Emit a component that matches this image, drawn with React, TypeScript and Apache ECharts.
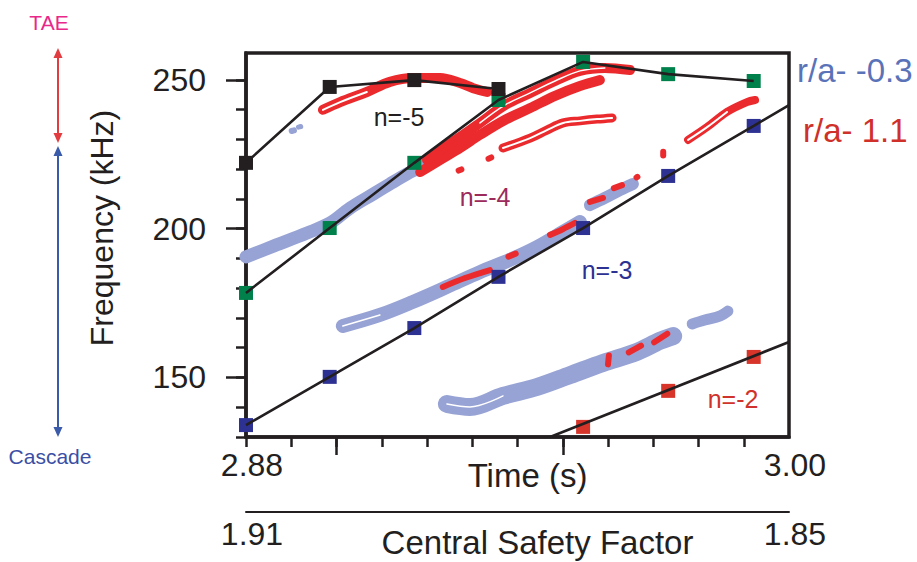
import React, { useEffect, useRef } from "react";
import * as echarts from "echarts";

// ---------- data ----------
const TIMES = [2.88, 2.8985, 2.9172, 2.9358, 2.9545, 2.9733, 2.9922];
const N5_FREQ = [222.1, 247.6, 249.9, 246.9]; // first four times
const N4_FREQ = [178.4, 200.2, 222.1, 243.2, 256.0, 251.9, 249.6];
const N3_FREQ = [134.0, 150.2, 166.6, 183.8, 200.2, 217.7, 234.5];
const N3_LINE_END = [3.0, 241.5];
const N2_TIMES = [2.9545, 2.9733, 2.9922];
const N2_FREQ = [133.4, 145.5, 156.9];
const N2_LINE = [[2.9472, 130.0], [3.0, 161.9]];

const X_TICKS = [2.88, 2.89, 2.9, 2.91, 2.92, 2.93, 2.94, 2.95, 2.96, 2.97, 2.98, 2.99];
const X_LONG_TICKS = [2.9, 2.95];
const X_LABELS = [2.88, 3.0];
const Q_LABELS = [1.91, 1.85];
const Y_TICKS = [130, 140, 150, 160, 170, 180, 190, 200, 210, 220, 230, 240, 250];
const Y_LABELS = [150, 200, 250];

// cascade (r/a = -0.3) contour bands
const BLUE_A = [[2.88, 190.5], [2.8862, 194.2], [2.8935, 198.5], [2.8986, 201.9], [2.903, 206.9], [2.9081, 211.6], [2.9118, 215.0], [2.9156, 218.4], [2.9185, 220.7], [2.9218, 223.7]];
const BLUE_DOT1 = [[2.8901, 232.8], [2.8906, 233.0]];
const BLUE_DOT2 = [[2.8916, 234.1], [2.8921, 234.3]];
const BLUE_B1 = [[2.9014, 167.3], [2.9096, 171.0], [2.9169, 175.4], [2.9244, 180.4], [2.9317, 185.4], [2.9383, 189.5], [2.9443, 193.8], [2.9501, 198.9], [2.9538, 202.2]];
const BLUE_B2 = [[2.956, 207.9], [2.9593, 210.3], [2.9627, 213.0], [2.9655, 215.0]];
const BLUE_C1 = [[2.9244, 141.1], [2.9295, 140.1], [2.9368, 143.8], [2.9443, 146.8], [2.9516, 150.8], [2.9589, 154.9], [2.9664, 158.6], [2.9715, 162.3], [2.9744, 163.9]];
const BLUE_C2 = [[2.9786, 168.0], [2.9814, 169.3], [2.9848, 170.7], [2.9865, 172.3]];

// TAE (r/a = 1.1) contour bands
const RED_N5 = [[2.897, 239.9], [2.9008, 242.5], [2.9067, 245.9], [2.9118, 249.3], [2.9169, 250.6], [2.9229, 250.6], [2.9273, 248.9], [2.9302, 247.2], [2.9333, 245.9]];
const RED_TAE_UP = [[2.92, 223.1], [2.9229, 226.4], [2.9273, 230.8], [2.9317, 235.5], [2.9372, 241.5], [2.9428, 245.6], [2.9483, 249.6], [2.9538, 253.0], [2.9593, 254.0], [2.9649, 253.3]];
const RED_TAE_LOW = [[2.9185, 219.0], [2.9229, 223.1], [2.9273, 227.1], [2.9317, 231.5], [2.9372, 236.5], [2.9428, 240.5], [2.9483, 244.6], [2.9538, 247.9], [2.9582, 249.9]];
const RED_MID = [[2.9368, 227.1], [2.9428, 230.4], [2.9465, 233.1], [2.9501, 235.5], [2.9538, 236.2], [2.9576, 236.8], [2.9609, 237.2]];
const RED_RIGHT = [[2.9777, 229.8], [2.9819, 234.1], [2.9863, 239.2], [2.9907, 242.5], [2.9925, 243.2]];
const RED_SPOTS = [
  [[2.927, 219.5], [2.9276, 219.9]],
  [[2.9336, 223.5], [2.9342, 223.9]],
  [[2.9722, 224.6], [2.9722, 225.8]],
  [[2.9663, 217.2], [2.9665, 217.4]],
  [[2.9235, 180.4], [2.9284, 183.4], [2.9339, 186.1]],
  [[2.938, 190.6], [2.9396, 191.6]],
  [[2.9472, 197.9], [2.95, 199.8], [2.9527, 201.9]],
  [[2.956, 209.0], [2.9589, 210.3]],
  [[2.9613, 213.6], [2.9631, 214.6]],
  [[2.96, 154.4], [2.9602, 157.4]],
  [[2.9646, 158.4], [2.9673, 160.7]],
  [[2.9702, 161.8], [2.9731, 164.7]],
];

// ---------- styles ----------
const FONT = "Liberation Sans, Arial, Helvetica, sans-serif";
const INK = "#231f20";
const BLUE_BLOB = "#97a3d4";
const RED_BLOB = "#eb2a2e";

function blob(data: number[][], color: string, width: number, z = 1) {
  return {
    type: "line",
    data,
    showSymbol: false,
    symbol: "none",
    smooth: 0.35,
    silent: true,
    z,
    lineStyle: { color, width, cap: "round", join: "round" },
  };
}

function hollow(data: number[][], width: number, z = 3) {
  return blob(data, "#ffffff", width, z);
}

function squares(times: number[], freqs: number[], color: string) {
  return {
    type: "scatter",
    data: freqs.map((f, i) => [times[i], f]),
    symbol: "rect",
    symbolSize: 14,
    itemStyle: { color, opacity: 1 },
    silent: true,
    z: 5,
  };
}

function trace(data: number[][]) {
  return {
    type: "line",
    data,
    showSymbol: false,
    symbol: "none",
    silent: true,
    z: 6,
    lineStyle: { color: INK, width: 2.6 },
  };
}

const fmt2 = (v: number) => v.toFixed(2);

function buildOption() {
  const series: any[] = [
    blob(BLUE_A, BLUE_BLOB, 13),
    blob(BLUE_DOT1, BLUE_BLOB, 6),
    blob(BLUE_DOT2, BLUE_BLOB, 5),
    blob(BLUE_B1, BLUE_BLOB, 14),
    blob(BLUE_B2, BLUE_BLOB, 12),
    blob(BLUE_C1, BLUE_BLOB, 18),
    blob(BLUE_C2, BLUE_BLOB, 11),
    hollow(BLUE_C1.slice(0, 3), 1.5, 2),
    hollow(BLUE_B1.slice(0, 2), 1.5, 2),
    blob(RED_N5, RED_BLOB, 10, 3),
    hollow(RED_N5.slice(0, 3), 2, 4),
    blob(RED_TAE_LOW, RED_BLOB, 10, 3),
    blob(RED_TAE_UP, RED_BLOB, 10, 3),
    hollow(RED_TAE_UP.slice(3, 9), 1.5, 4),
    blob(RED_MID, RED_BLOB, 9, 3),
    hollow(RED_MID, 2, 4),
    blob(RED_RIGHT, RED_BLOB, 8, 3),
    hollow(RED_RIGHT.slice(0, 3), 2, 4),
    ...RED_SPOTS.map((s) => blob(s, RED_BLOB, 6, 3)),
    squares(TIMES, N4_FREQ, "#00804b"),
    squares(TIMES, N3_FREQ, "#2d3192"),
    squares(N2_TIMES, N2_FREQ, "#d7342a"),
    squares(TIMES.slice(0, 4), N5_FREQ, INK),
    trace(N4_FREQ.map((f, i) => [TIMES[i], f])),
    trace([...N3_FREQ.map((f, i) => [TIMES[i], f]), N3_LINE_END]),
    trace(N2_LINE),
    trace(N5_FREQ.map((f, i) => [TIMES[i], f])),
  ];

  const arrowHead = (x: number, y: number, up: boolean, color: string) => ({
    type: "polygon",
    shape: {
      points: up
        ? [[x, y], [x - 4.5, y + 10], [x + 4.5, y + 10]]
        : [[x, y], [x - 4.5, y - 10], [x + 4.5, y - 10]],
    },
    style: { fill: color },
  });

  const txt = (text: string, x: number, y: number, fill: string, fontSize: number, align = "center") => ({
    type: "text",
    x,
    y,
    style: { text, fill, fontSize, fontFamily: FONT, align, verticalAlign: "middle" },
  });

  return {
    animation: false,
    backgroundColor: "#ffffff",
    grid: {
      left: 246,
      top: 53,
      width: 543,
      height: 384,
      show: true,
      borderColor: INK,
      borderWidth: 3.5,
      backgroundColor: "transparent",
      containLabel: false,
      outerBoundsMode: "none",
    },
    xAxis: [
      {
        type: "value",
        min: 2.88,
        max: 3.0,
        position: "bottom",
        axisLine: { show: true, onZero: false, lineStyle: { color: INK, width: 3.5 } },
        axisTick: { show: true, customValues: X_TICKS, length: 10, lineStyle: { color: INK, width: 2.5 } },
        axisLabel: {
          customValues: X_LABELS,
          formatter: fmt2,
          fontSize: 32,
          fontFamily: FONT,
          color: INK,
          margin: 12,
          padding: [0, 0, 0, 12],
        },
        splitLine: { show: false },
        name: "Time (s)",
        nameLocation: "middle",
        nameGap: 22,
        nameMoveOverlap: false,
        nameTextStyle: { fontSize: 33, fontFamily: FONT, color: INK, padding: [0, 0, 0, 20] },
      },
      {
        type: "value",
        min: 2.88,
        max: 3.0,
        position: "bottom",
        axisLine: { show: false },
        axisTick: { show: true, customValues: X_LONG_TICKS, length: 18, lineStyle: { color: INK, width: 2.5 } },
        axisLabel: { show: false },
        splitLine: { show: false },
      },
      {
        type: "value",
        min: 1.85,
        max: 1.91,
        inverse: true,
        position: "bottom",
        offset: 75,
        axisLine: { show: true, onZero: false, lineStyle: { color: INK, width: 2 } },
        axisTick: { show: false },
        axisLabel: {
          customValues: Q_LABELS,
          formatter: fmt2,
          fontSize: 32,
          fontFamily: FONT,
          color: INK,
          margin: 6,
          padding: [0, 0, 0, 12],
        },
        splitLine: { show: false },
        name: "Central Safety Factor",
        nameLocation: "middle",
        nameGap: 14,
        nameMoveOverlap: false,
        nameTextStyle: { fontSize: 33, fontFamily: FONT, color: INK, padding: [0, 0, 0, 40] },
      },
    ],
    yAxis: [
      {
        type: "value",
        min: 130,
        max: 259,
        position: "left",
        axisLine: { show: true, onZero: false, lineStyle: { color: INK, width: 3.5 } },
        axisTick: { show: true, customValues: Y_TICKS, length: 10, lineStyle: { color: INK, width: 2.5 } },
        axisLabel: { customValues: Y_LABELS, fontSize: 32, fontFamily: FONT, color: INK, margin: 40 },
        splitLine: { show: false },
        name: "Frequency (kHz)",
        nameLocation: "middle",
        nameGap: 128,
        nameMoveOverlap: false,
        nameTextStyle: { fontSize: 32, fontFamily: FONT, color: INK, padding: [0, 0, 0, 34] },
      },
      {
        type: "value",
        min: 130,
        max: 259,
        position: "left",
        axisLine: { show: false },
        axisTick: { show: true, customValues: Y_LABELS, length: 20, lineStyle: { color: INK, width: 2.5 } },
        axisLabel: { show: false },
        splitLine: { show: false },
      },
    ],
    series,
    graphic: [
      { type: "line", shape: { x1: 58, y1: 54, x2: 58, y2: 138 }, style: { stroke: "#e23c41", lineWidth: 2 } },
      arrowHead(58, 48, true, "#e23c41"),
      arrowHead(58, 143, false, "#e23c41"),
      { type: "line", shape: { x1: 58, y1: 152, x2: 58, y2: 430 }, style: { stroke: "#3a5aaa", lineWidth: 2 } },
      arrowHead(58, 146, true, "#3a5aaa"),
      arrowHead(58, 437, false, "#3a5aaa"),
      txt("TAE", 49, 22, "#e8288a", 21),
      txt("Cascade", 50, 456, "#3b4fa5", 21),
      txt("n=-5", 399, 117, INK, 25),
      txt("n=-4", 485, 197, "#9c2a5b", 25),
      txt("n=-3", 607, 270, "#2d3192", 25),
      txt("n=-2", 733, 399, "#d0332b", 25),
      txt("r/a- -0.3", 797, 70, "#5a73b8", 33, "left"),
      txt("r/a- 1.1", 803, 130, "#d0302a", 33, "left"),
    ],
  };
}

export default function App() {
  const ref = useRef<HTMLDivElement>(null);
  useEffect(() => {
    if (!ref.current) return;
    const chart = echarts.init(ref.current, null, { renderer: "svg" });
    chart.setOption(buildOption() as any);
    return () => chart.dispose();
  }, []);
  return (
    <div
      ref={ref}
      style={{ position: "fixed", left: 0, top: 0, width: 917, height: 562, background: "#fff" }}
    />
  );
}
